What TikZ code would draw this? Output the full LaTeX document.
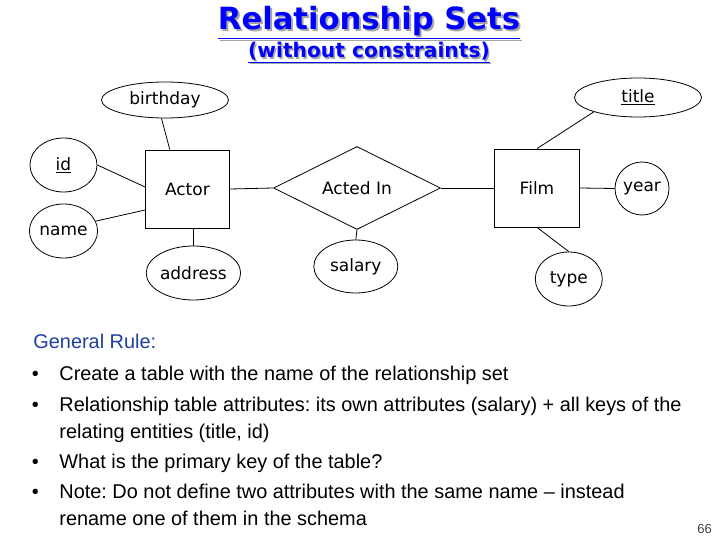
\documentclass[tikz,border=0pt]{standalone}
\usepackage{fontspec}
\setmainfont{Liberation Sans}
\newfontfamily\comicfont{DejaVu Sans}
\usetikzlibrary{shapes.geometric}
\definecolor{headblue}{RGB}{0,0,255}
\definecolor{ruleblue}{RGB}{31,63,160}
\frenchspacing

\begin{document}
\begin{tikzpicture}[x=1pt, y=-1pt, line width=0.8pt,
		erfont/.style={font=\comicfont\fontsize{17}{20}\selectfont},
		entity/.style={draw, rectangle, inner sep=0pt, minimum width=84pt, minimum height=78pt, erfont},
		relation/.style={draw, diamond, inner sep=0pt, minimum width=167pt, minimum height=50pt, erfont},
		attr/.style={draw, ellipse, inner sep=0pt, minimum width=67pt, minimum height=54pt, erfont},
		bodytext/.style={anchor=base west, inner sep=0pt, font=\fontsize{19.9}{24}\selectfont}]
	\useasboundingbox (0,0) rectangle (720,540);
	
	% ---------- 标题 ----------
	\node[anchor=base, text=black!35, font=\comicfont\bfseries\fontsize{30.6}{36}\selectfont] (headshadow) at (371,32) {\underline{Relationship Sets}};
	\node[anchor=base, text=headblue, font=\comicfont\bfseries\fontsize{30.6}{36}\selectfont] (head) at (369,30) {\underline{Relationship Sets}};
	\node[anchor=base, text=black!35, font=\comicfont\bfseries\fontsize{20.2}{24}\selectfont] (subshadow) at (370.5,59.5) {\underline{(without constraints)}};
	\node[anchor=base, text=headblue, font=\comicfont\bfseries\fontsize{20.2}{24}\selectfont] (sub) at (369,58) {\underline{(without constraints)}};
	
	% ---------- ER 图 ----------
	% 1. 实体与联系
	\node[entity] (actor) at (187.4,189) {Actor};
	\node[relation] (acted) at (357,188) {Acted In};
	\node[entity, minimum width=84.5pt] (film) at (537,188) {Film};
	
	% 2. 属性
	\node[attr, minimum width=127pt, minimum height=36pt] (birthday) at (165,100) {birthday};
	\node[attr, minimum width=127pt, minimum height=39pt] (titleattr) at (638,97.5) {\underline{title}};
	\node[attr] (id) at (63.5,165) {\underline{id}};
	\node[attr] (name) at (63.5,231) {name};
	\node[attr, minimum width=54pt, minimum height=53pt] (year) at (642,188.5) {year};
	\node[attr, minimum width=84pt] (address) at (193.4,273) {address};
	\node[attr, minimum width=84pt, minimum height=53pt] (salary) at (355.8,266.5) {salary};
	\node[attr] (type) at (568.8,279) {type};
	
	% 3. 连线
	\draw ([xshift=-3.5pt]birthday.south) -- ([xshift=-17.6pt]actor.north);
	\draw (id.east) -- ([yshift=2pt]actor.west);
	\draw (name.17) -- ([yshift=-21pt]actor.west);
	\draw (address.north) -- (address.north |- actor.south);
	\draw (actor.east) -- (acted.west);
	\draw (acted.east) -- (film.west);
	\draw (salary.north) -- (acted.south);
	\draw (titleattr.198) -- (film.north);
	\draw (film.east) -- (year.west);
	\draw (film.south) -- (type.north);
	
	% ---------- 规则说明 ----------
	\node[bodytext, text=ruleblue] (rule) at (33,348.3) {General Rule:};
	\node[bodytext] (dot1) at (31.5,380) {•};
	\node[bodytext] (item1) at (59,380) {Create a table with the name of the relationship set};
	\node[bodytext] (dot2) at (31.5,411.7) {•};
	\node[bodytext] (item2) at (59,411.7) {Relationship table attributes: its own attributes (salary) + all keys of the};
	\node[bodytext] (item2b) at (59,438.3) {relating entities (title, id)};
	\node[bodytext] (dot3) at (31.5,468.3) {•};
	\node[bodytext] (item3) at (59,468.3) {What is the primary key of the table?};
	\node[bodytext] (dot4) at (31.5,498.3) {•};
	\node[bodytext] (item4) at (59,498.3) {Note: Do not define two attributes with the same name – instead};
	\node[bodytext] (item4b) at (59,525) {rename one of them in the schema};
	\node[anchor=base west, inner sep=0pt, text=black!75, font=\fontsize{13}{15}\selectfont] (pagenum) at (697,533) {66};
\end{tikzpicture}
\end{document}
